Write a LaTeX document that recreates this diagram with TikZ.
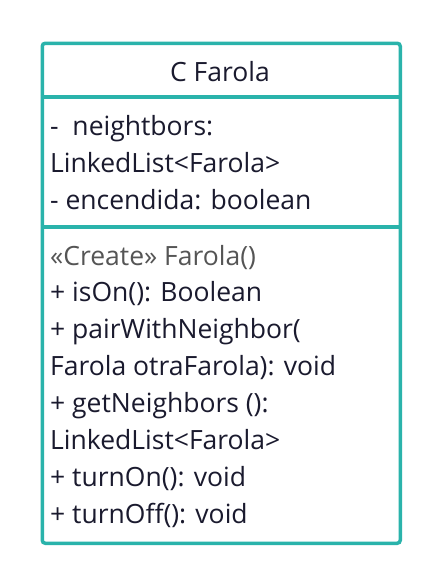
\documentclass[tikz,border=0pt]{standalone}
\usepackage{fontspec}
\setmainfont{Open Sans}
\definecolor{frame}{HTML}{2AB3AB}
\definecolor{ink}{HTML}{1A1A2E}
\definecolor{stereo}{HTML}{555555}
\tikzset{
  classbox/.style={draw=frame, line width=3.5pt, rounded corners=3pt, fill=white,
    minimum width=358pt, minimum height=500pt, inner sep=0pt, anchor=north west},
  divider/.style={draw=frame, line width=3.5pt},
  member/.style={anchor=base west, inner sep=0pt, text=ink, font=\fontsize{26.5}{30}\selectfont},
  titletext/.style={anchor=base, inner sep=0pt, text=ink, font=\fontsize{26.5}{30}\selectfont},
}
\begin{document}
\begin{tikzpicture}[x=1pt,y=-1pt]
\useasboundingbox (0,0) rectangle (440,582);
\node[classbox] (box) at (40.5,41.5) {};
% compartment separators
\coordinate (d1l) at (box.west |- 0,97);
\coordinate (d1r) at (box.east |- 0,97);
\coordinate (d2l) at (box.west |- 0,227);
\coordinate (d2r) at (box.east |- 0,227);
\draw[divider] (d1l) -- (d1r);
\draw[divider] (d2l) -- (d2r);
% class name
\node[titletext] (title) at (220,81) {C Farola};
% attributes
\node[member] (a1) at (50,135) {-\ \ neightbors:};
\node[member] (a2) at (50,172) {LinkedList<Farola>};
\node[member] (a3) at (50,209) {- encendida: boolean};
% operations
\node[member, text=stereo] (m1) at (50,265) {«Create» Farola()};
\node[member] (m2) at (50,301.9) {+ isOn(): Boolean};
\node[member] (m3) at (50,338.8) {+ pairWithNeighbor(};
\node[member] (m4) at (50,375.7) {Farola otraFarola): void};
\node[member] (m5) at (50,412.6) {+ getNeighbors ():};
\node[member] (m6) at (50,449.5) {LinkedList<Farola>};
\node[member] (m7) at (50,486.4) {+ turnOn(): void};
\node[member] (m8) at (50,523.3) {+ turnOff(): void};
\end{tikzpicture}
\end{document}
